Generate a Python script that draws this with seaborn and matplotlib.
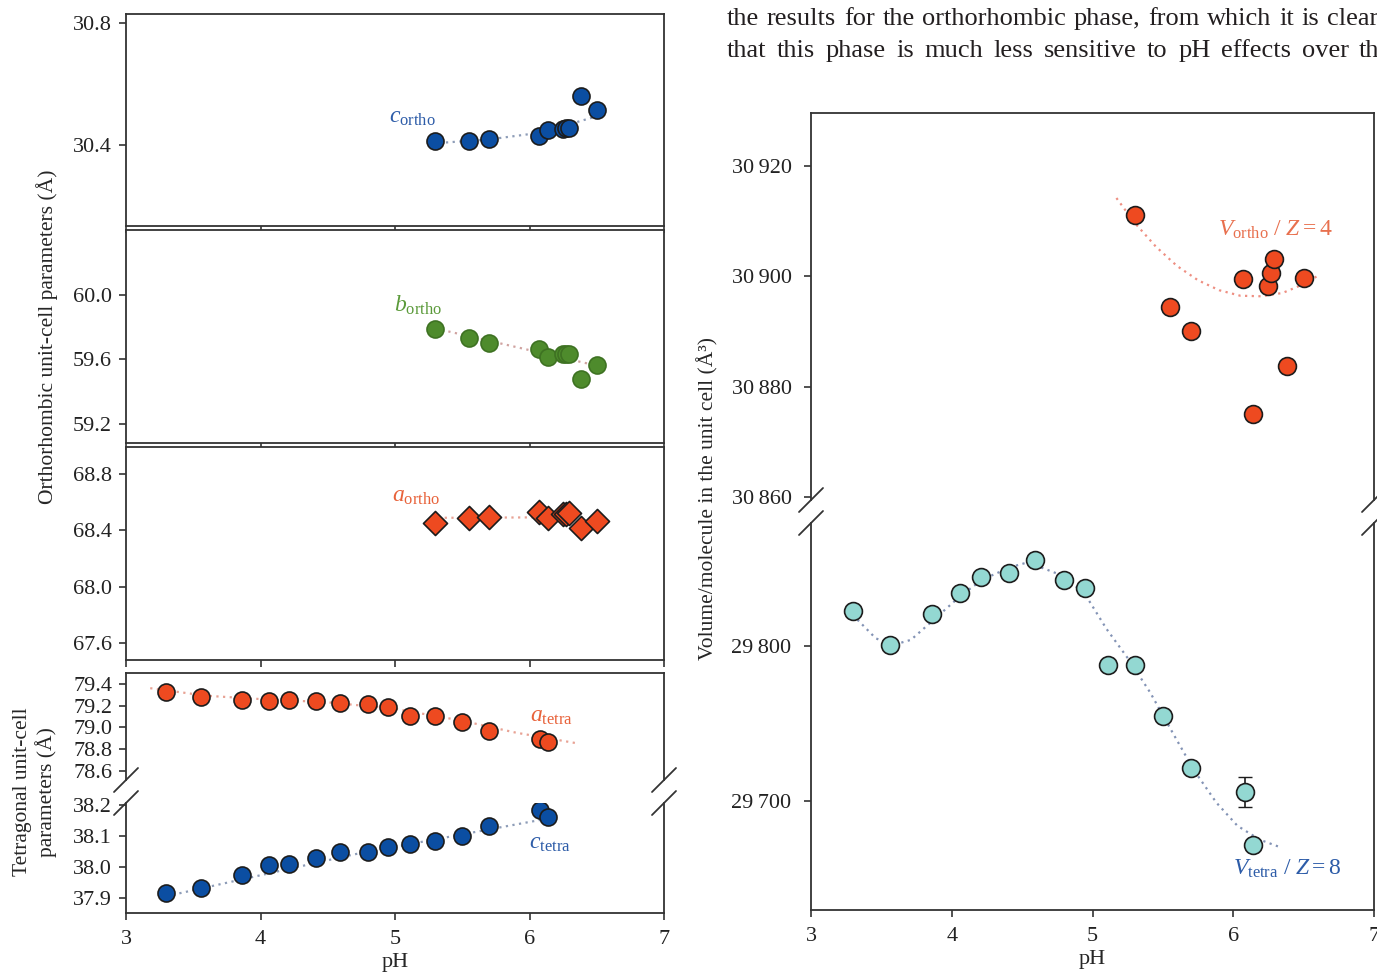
import matplotlib
matplotlib.use('Agg')
import matplotlib.pyplot as plt
from matplotlib.lines import Line2D
from matplotlib.ticker import FuncFormatter
import seaborn as sns

# %% data

ph_ortho = [5.30, 5.55, 5.70, 6.07, 6.14, 6.25, 6.27, 6.29, 6.38, 6.50]
c_ortho = [30.413, 30.413, 30.418, 30.430, 30.449, 30.452, 30.454, 30.455, 30.560, 30.513]
b_ortho = [59.789, 59.731, 59.700, 59.661, 59.610, 59.634, 59.632, 59.630, 59.479, 59.566]
a_ortho = [68.453, 68.487, 68.494, 68.531, 68.490, 68.512, 68.516, 68.521, 68.417, 68.463]
v_ortho = [30911.1, 30894.4, 30890.1, 30899.6, 30875.1, 30898.2, 30900.6, 30903.2, 30883.8, 30899.8]

ph_tetra = [3.30, 3.56, 3.86, 4.06, 4.21, 4.41, 4.59, 4.80, 4.95, 5.11, 5.30, 5.50, 5.70, 6.08, 6.14]
a_tetra = [79.322, 79.275, 79.253, 79.243, 79.253, 79.243, 79.227, 79.212, 79.187, 79.108,
           79.108, 79.048, 78.967, 78.888, 78.860]
c_tetra = [37.915, 37.933, 37.973, 38.004, 38.008, 38.027, 38.048, 38.048, 38.065, 38.073,
           38.082, 38.098, 38.130, 38.182, 38.160]
v_tetra = [29822.4, 29800.9, 29820.4, 29834.4, 29844.5, 29847.3, 29855.3, 29842.4, 29837.2,
           29787.7, 29787.7, 29754.8, 29721.5, 29705.8, 29671.6]
v_tetra_err = [0, 0, 0, 0, 0, 0, 0, 0, 0, 0, 0, 0, 0, 9.5, 0]

# dotted trend lines
c_ortho_fit_ph = [5.28, 5.70, 6.08, 6.55]
c_ortho_fit = [30.405, 30.418, 30.440, 30.500]
b_ortho_fit_ph = [5.30, 6.55]
b_ortho_fit = [59.790, 59.550]
a_ortho_fit_ph = [5.32, 6.30]
a_ortho_fit = [68.488, 68.492]
a_tetra_fit_ph = [3.18, 3.60, 4.00, 4.50, 5.00, 5.50, 5.90, 6.34]
a_tetra_fit = [79.36, 79.29, 79.26, 79.23, 79.17, 79.06, 78.95, 78.855]
c_tetra_fit_ph = [3.30, 4.70, 6.10]
c_tetra_fit = [37.905, 38.040, 38.152]
v_ortho_fit_ph = [5.17, 5.30, 5.45, 5.60, 5.75, 5.90, 6.05, 6.20, 6.35, 6.50, 6.60]
v_ortho_fit = [30914.2, 30909.7, 30905.4, 30901.9, 30899.3, 30897.5, 30896.5, 30896.4,
               30897.0, 30898.6, 30900.1]
v_tetra_fit_ph = [3.33, 3.46, 3.58, 3.71, 3.86, 4.07, 4.22, 4.42, 4.54, 4.80, 4.95, 5.10,
                  5.26, 5.41, 5.57, 5.72, 5.88, 6.03, 6.19, 6.34]
v_tetra_fit = [29817, 29805, 29800.6, 29804, 29816, 29833, 29843, 29851, 29854, 29845, 29833,
               29811, 29791, 29770, 29744, 29720, 29699, 29684, 29675, 29670]

text_lines = ['the results for the orthorhombic phase, from which it is clear',
              'that this phase is much less sensitive to pH effects over the']

# %% style

sns.set_style('ticks')
plt.rcParams['font.family'] = ['Liberation Serif', 'DejaVu Serif']
plt.rcParams['mathtext.fontset'] = 'custom'
plt.rcParams['mathtext.rm'] = 'Liberation Serif'
plt.rcParams['mathtext.it'] = 'Liberation Serif:italic'
plt.rcParams['axes.linewidth'] = 1.3
plt.rcParams['axes.edgecolor'] = '#333333'

ORANGE = '#EE4A20'
BLUE = '#0B4EA2'
GREEN = '#4E8B2C'
TEAL = '#93D8D2'
EDGE = '#1c1c1c'
DOT = (0, (1, 2))

W, H = 1377, 977
fig = plt.figure(figsize=(W / 100, H / 100), dpi=100)


def add_ax(l, t, r, b):
    return fig.add_axes([l / W, 1 - b / H, (r - l) / W, (b - t) / H])


def style(ax, ylim, yticks, fmt, xlabels=False, xticks=True, ypad=5):
    ax.set_xlim(3, 7)
    ax.set_ylim(*ylim)
    ax.set_xticks([3, 4, 5, 6, 7] if xticks else [])
    ax.set_yticks(yticks)
    ax.yaxis.set_major_formatter(FuncFormatter(fmt))
    ax.tick_params(direction='out', length=5, width=1.1, labelsize=16, colors='#222222')
    ax.tick_params(axis='y', pad=ypad)
    ax.tick_params(axis='x', pad=7)
    if not xlabels:
        ax.set_xticklabels([])
    for s in ax.spines.values():
        s.set_visible(True)
    ax.set_xlabel('')
    ax.set_ylabel('')


def hide_tick(ax, value):
    for t in ax.yaxis.get_major_ticks():
        if abs(t.get_loc() - value) < 1e-6:
            t.tick1line.set_visible(False)


def points(ax, x, y, color, marker='o', s=150, edge=EDGE):
    sns.scatterplot(x=x, y=y, ax=ax, s=s, color=color, marker=marker,
                    edgecolor=edge, linewidth=1.2, zorder=3, legend=False)


def trend(ax, x, y, color):
    sns.lineplot(x=x, y=y, ax=ax, color=color, lw=1.6, linestyle=DOT, zorder=2)


one_dec = lambda v, p: f'{v:.1f}'
thousands = lambda v, p: f'{int(round(v)) // 1000}\u2009{int(round(v)) % 1000:03d}'

# %% orthorhombic panels

ax1 = add_ax(126, 14, 664, 226)
trend(ax1, c_ortho_fit_ph, c_ortho_fit, '#8E9DB8')
points(ax1, ph_ortho, c_ortho, BLUE)
style(ax1, (30.135, 30.828), [30.4, 30.8], one_dec)
ax1.text(5.13, 30.489, r'$c_{\mathrm{ortho}}$', color='#2D5CA8', fontsize=17, ha='center', va='center')

ax2 = add_ax(126, 230, 664, 443)
trend(ax2, b_ortho_fit_ph, b_ortho_fit, '#D0A3A0')
points(ax2, ph_ortho, b_ortho, GREEN, edge='#3E7222')
style(ax2, (59.08, 60.40), [59.2, 59.6, 60.0], one_dec)
ax2.text(5.17, 59.93, r'$b_{\mathrm{ortho}}$', color='#5B9A3A', fontsize=17, ha='center', va='center')

ax3 = add_ax(126, 447, 664, 660)
trend(ax3, a_ortho_fit_ph, a_ortho_fit, '#E8A294')
points(ax3, ph_ortho, a_ortho, ORANGE, marker='D', s=150)
style(ax3, (67.48, 68.99), [67.6, 68.0, 68.4, 68.8], one_dec)
ax3.text(5.16, 68.64, r'$a_{\mathrm{ortho}}$', color='#E8623A', fontsize=17, ha='center', va='center')

# %% tetragonal panel (broken axis)

ax4a = add_ax(126, 673, 664, 780)
trend(ax4a, a_tetra_fit_ph, a_tetra_fit, '#E8A294')
points(ax4a, ph_tetra, a_tetra, ORANGE)
style(ax4a, (78.514, 79.50), [78.6, 78.8, 79.0, 79.2, 79.4], one_dec, xticks=False)
ax4a.spines['bottom'].set_visible(False)
hide_tick(ax4a, 78.6)
ax4a.text(6.16, 79.10, r'$a_{\mathrm{tetra}}$', color='#E8623A', fontsize=17, ha='center', va='center')

ax4b = add_ax(126, 803, 664, 913)
trend(ax4b, c_tetra_fit_ph, c_tetra_fit, '#8E9DB8')
points(ax4b, ph_tetra, c_tetra, BLUE)
style(ax4b, (37.851, 38.205), [37.9, 38.0, 38.1, 38.2], one_dec, xlabels=True)
ax4b.spines['top'].set_visible(False)
hide_tick(ax4b, 38.2)
ax4b.set_xlabel('pH', fontsize=16, labelpad=3)
ax4b.text(6.15, 38.075, r'$c_{\mathrm{tetra}}$', color='#2D5CA8', fontsize=17, ha='center', va='center')

# %% volume panel (broken axis)

axr_top = add_ax(811, 113, 1374, 500)
trend(axr_top, v_ortho_fit_ph, v_ortho_fit, '#EE8F82')
points(axr_top, ph_ortho, v_ortho, ORANGE, s=165)
style(axr_top, (30859.5, 30929.6), [30860, 30880, 30900, 30920], thousands, xticks=False, ypad=9)
axr_top.spines['bottom'].set_visible(False)
hide_tick(axr_top, 30860)
axr_top.text(6.30, 30908.4, r'$V_{\mathrm{ortho}}\ /\ Z = 4$', color='#E8704E', fontsize=17,
             ha='center', va='center')

axr_bot = add_ax(811, 523, 1374, 910)
trend(axr_bot, v_tetra_fit_ph, v_tetra_fit, '#8393B5')
for x, y, e in zip(ph_tetra, v_tetra, v_tetra_err):
    if e > 0:
        axr_bot.errorbar(x, y, yerr=e, fmt='none', ecolor=EDGE, elinewidth=1.2, capsize=5, zorder=2.5)
points(axr_bot, ph_tetra, v_tetra, TEAL, s=165)
style(axr_bot, (29629.7, 29879.4), [29700, 29800], thousands, xlabels=True, ypad=9)
axr_bot.spines['top'].set_visible(False)
axr_bot.set_xlabel('pH', fontsize=16, labelpad=3)
axr_bot.text(6.38, 29656, r'$V_{\mathrm{tetra}}\ /\ Z = 8$', color='#2D5CA8', fontsize=17,
             ha='center', va='center')

# break marks on the spines
for sx, cy in [(126, 780), (664, 780), (126, 803), (664, 803),
               (811, 500), (1374, 500), (811, 523), (1374, 523)]:
    fig.add_artist(Line2D([(sx - 12) / W, (sx + 12) / W], [1 - (cy + 12) / H, 1 - (cy - 12) / H],
                          color='#333333', lw=1.3))

# %% axis titles

fig.text(47 / W, 1 - 337 / H, 'Orthorhombic unit-cell parameters (Å)', rotation=90,
         ha='center', va='center', fontsize=15.5)
fig.text(35 / W, 1 - 792 / H, 'Tetragonal unit-cell\nparameters (Å)', rotation=90,
         ha='center', va='center', fontsize=15.5, linespacing=1.15)
fig.text(708 / W, 1 - 498 / H, 'Volume/molecule in the unit cell (Å³)', rotation=90,
         ha='center', va='center', fontsize=15.5)

# %% running text above the right panel (justified, clipped by the page edge)

renderer = fig.canvas.get_renderer()
for line, base, x_last in zip(text_lines, [25, 57], [1327, 1359]):
    words = line.split()
    widths = []
    for w in words:
        t = fig.text(0, 0, w, fontsize=19)
        widths.append(t.get_window_extent(renderer).width)
        t.remove()
    gap = (x_last - 727 - sum(widths[:-1])) / (len(words) - 1)
    x = 727
    for w, wd in zip(words, widths):
        fig.text(x / W, 1 - base / H, w, fontsize=19, va='baseline', color='#231f20')
        x += wd + gap

fig.savefig('out.png', dpi=100)
